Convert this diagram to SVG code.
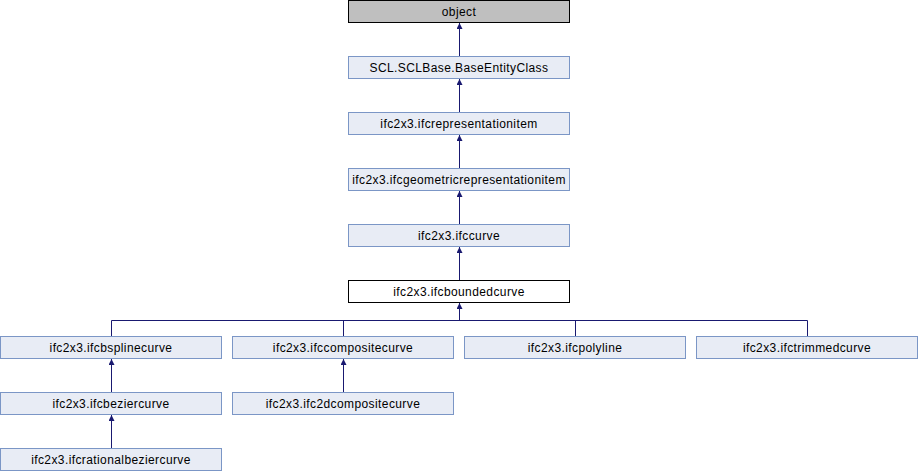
<svg xmlns="http://www.w3.org/2000/svg" width="918" height="472" viewBox="0 0 918 472">
<defs>
<style>
.n rect{fill:#e8ecf5;stroke:#7b96c6;stroke-width:1}
.n text{font-family:"Liberation Sans",Arial,sans-serif;font-size:12px;letter-spacing:0.4px;fill:#000;text-anchor:middle}
.e{stroke:#191970;stroke-width:1;fill:none}
</style>
<marker id="a" markerWidth="8" markerHeight="8" refX="6" refY="3" orient="auto" markerUnits="userSpaceOnUse">
<path d="M0,0 L6,3 L0,6 Z" fill="#191970"/>
</marker>
</defs>
<rect width="918" height="472" fill="#fff"/>
<g id="edges">
<path class="e" d="M459.5,56 V23" marker-end="url(#a)"/>
<path class="e" d="M459.5,112 V79" marker-end="url(#a)"/>
<path class="e" d="M459.5,168 V135" marker-end="url(#a)"/>
<path class="e" d="M459.5,224 V191" marker-end="url(#a)"/>
<path class="e" d="M459.5,280 V247" marker-end="url(#a)"/>
<path class="e" d="M459.5,320.5 V303" marker-end="url(#a)"/>
<path class="e" d="M111.5,336 V320.5 H807.5 V336"/>
<path class="e" d="M343.5,320.5 V336"/>
<path class="e" d="M575.5,320.5 V336"/>
<path class="e" d="M111.5,392 V359" marker-end="url(#a)"/>
<path class="e" d="M111.5,448 V415" marker-end="url(#a)"/>
<path class="e" d="M343.5,392 V359" marker-end="url(#a)"/>
</g>
<g id="object" class="n"><rect x="348.5" y="0.5" width="221" height="22" style="fill:#bfbfbf;stroke:#000"/><text x="459" y="16">object</text></g>
<g id="baseentity" class="n"><rect x="348.5" y="56.5" width="221" height="22"/><text x="459" y="72">SCL.SCLBase.BaseEntityClass</text></g>
<g id="repitem" class="n"><rect x="348.5" y="112.5" width="221" height="22"/><text x="459" y="128">ifc2x3.ifcrepresentationitem</text></g>
<g id="georepitem" class="n"><rect x="348.5" y="168.5" width="221" height="22"/><text x="459" y="184">ifc2x3.ifcgeometricrepresentationitem</text></g>
<g id="curve" class="n"><rect x="348.5" y="224.5" width="221" height="22"/><text x="459" y="240">ifc2x3.ifccurve</text></g>
<g id="boundedcurve" class="n"><rect x="348.5" y="280.5" width="221" height="22" style="fill:#fff;stroke:#000"/><text x="459" y="296">ifc2x3.ifcboundedcurve</text></g>
<g id="bspline" class="n"><rect x="0.5" y="336.5" width="221" height="22"/><text x="111" y="352">ifc2x3.ifcbsplinecurve</text></g>
<g id="composite" class="n"><rect x="232.5" y="336.5" width="221" height="22"/><text x="343" y="352">ifc2x3.ifccompositecurve</text></g>
<g id="polyline" class="n"><rect x="464.5" y="336.5" width="221" height="22"/><text x="575" y="352">ifc2x3.ifcpolyline</text></g>
<g id="trimmed" class="n"><rect x="696.5" y="336.5" width="221" height="22"/><text x="807" y="352">ifc2x3.ifctrimmedcurve</text></g>
<g id="bezier" class="n"><rect x="0.5" y="392.5" width="221" height="22"/><text x="111" y="408">ifc2x3.ifcbeziercurve</text></g>
<g id="comp2d" class="n"><rect x="232.5" y="392.5" width="221" height="22"/><text x="343" y="408">ifc2x3.ifc2dcompositecurve</text></g>
<g id="rational" class="n"><rect x="0.5" y="448.5" width="221" height="22"/><text x="111" y="464">ifc2x3.ifcrationalbeziercurve</text></g>
</svg>
